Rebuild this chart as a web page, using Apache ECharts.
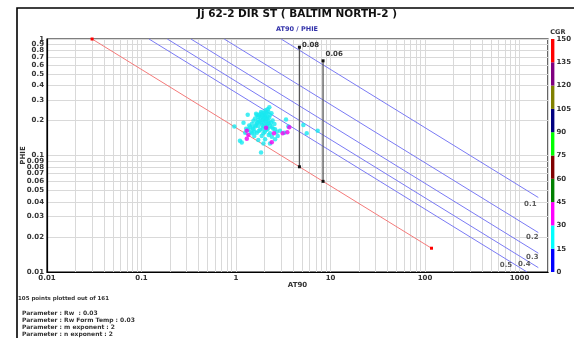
<!DOCTYPE html>
<html>
<head>
<meta charset="utf-8">
<script src="https://cdn.jsdelivr.net/npm/echarts@6/dist/echarts.min.js"></script>
<style>
  html, body { margin: 0; padding: 0; background: #fff; }
  #chart { width: 574px; height: 338px; }
</style>
</head>
<body>
<div id="chart"></div>
<script>
const FONT = 'DejaVu Sans';

// Pickett plot points [AT90, PHIE], split by CGR band
const cgr15to30 = [
  [2.25,0.259],[2.16,0.249],[1.33,0.224],[1.66,0.223],[1.80,0.227],[1.90,0.233],[1.99,0.230],[2.11,0.233],
  [2.20,0.238],[1.72,0.215],[1.87,0.215],[2.03,0.213],[2.16,0.215],[2.29,0.223],[1.59,0.208],[1.72,0.202],
  [1.90,0.202],[2.06,0.204],[2.20,0.199],[3.38,0.204],[1.53,0.199],[1.20,0.191],[1.47,0.186],[1.66,0.189],
  [1.84,0.191],[1.99,0.189],[2.16,0.186],[2.35,0.191],[2.55,0.186],[0.96,0.177],[1.41,0.175],[1.59,0.177],
  [1.72,0.179],[1.95,0.177],[2.39,0.175],[3.58,0.177],[5.16,0.183],[1.35,0.166],[1.53,0.168],[1.80,0.166],
  [2.11,0.166],[2.59,0.168],[2.92,0.163],[7.31,0.163],[1.25,0.157],[1.47,0.155],[1.66,0.157],[1.95,0.155],
  [2.29,0.155],[5.60,0.155],[3.25,0.157],[1.56,0.147],[1.87,0.147],[2.39,0.145],[2.76,0.147],[1.10,0.134],
  [2.03,0.138],[2.59,0.138],[1.72,0.136],[1.15,0.129],[1.95,0.127],[2.29,0.127],[1.84,0.106],
  [1.76,0.220],[1.83,0.210],[1.93,0.222],[2.00,0.218],[2.07,0.225],[2.13,0.208],[2.24,0.212],[1.96,0.206],
  [1.78,0.196],[1.88,0.184],[2.04,0.196],[2.12,0.180],[2.22,0.190],[1.69,0.193],[1.62,0.182],[1.50,0.172],
  [1.57,0.160],[1.74,0.162],[1.91,0.170],[2.02,0.160],[2.17,0.170],[2.30,0.180],[2.44,0.200],[2.48,0.170],
  [1.44,0.160],[1.38,0.181],[1.63,0.228],[2.37,0.230],[2.05,0.244],[1.84,0.236],[2.70,0.160],[1.28,0.170],
  [2.22,0.150]
];
const cgr30to45 = [
  [1.30,0.163],[1.35,0.150],[1.30,0.139],[2.08,0.173],[2.39,0.130],[2.52,0.155],[3.12,0.155],[3.49,0.158],[3.66,0.175]
];

// Water saturation lines (Rw 0.03, m 2, n 2): start / end of each line
const swNames     = ['0.1', '0.2', '0.3', '0.4', '0.5'];
const swStartAT90 = [3, 0.75, 0.3333, 0.1875, 0.12];
const swStartPHIE = [1, 1, 1, 1, 1];
const swEndAT90   = [1580, 1580, 1580, 1580, 1200];
const swEndPHIE   = [0.0436, 0.0218, 0.0145, 0.0109, 0.01];
const swLabelOffset = [[-8, 7], [-6, 5], [-6, 4], [-14, -3], [-21, -7]];

// Sw = 1 (water) line
const wetAT90 = [0.03, 117];
const wetPHIE = [1, 0.016];

// Porosity cut-off markers
const cutNames      = ['0.08', '0.06'];
const cutAT90       = [4.6875, 8.333];
const cutPHIEBottom = [0.08, 0.06];
const cutPHIETop    = [0.85, 0.65];
const cutLabelOffset = [[0, -2], [0, -7]];

// Axis ticks
const xLabelValues = [0.01, 0.1, 1, 10, 100, 1000];
const yGridValues = [0.01, 0.02, 0.03, 0.04, 0.05, 0.06, 0.07, 0.08, 0.09,
                     0.1, 0.2, 0.3, 0.4, 0.5, 0.6, 0.7, 0.8, 0.9, 1];
// label order keeps the crowded top labels away from the first/last slots
const yLabelValues = [1, 0.01, 0.02, 0.03, 0.04, 0.05, 0.06, 0.07, 0.08, 0.09,
                      0.2, 0.3, 0.4, 0.5, 0.6, 0.7, 0.8, 0.9, 0.1];
const decadeSteps = [1, 2, 3, 4, 5, 6, 7, 8, 9];
const xGridValues = [];
[0.01, 0.1, 1, 10, 100, 1000].forEach(d => decadeSteps.forEach(k => {
  const v = +(d * k).toPrecision(3);
  if (v <= 2000) xGridValues.push(v);
}));

// CGR colour scale
const cgrEdges  = [0, 15, 30, 45, 60, 75, 90, 105, 120, 135, 150];
const cgrColors = ['#0000ff', '#00ffff', '#ff00ff', '#008000', '#800000',
                   '#00ff00', '#000080', '#808000', '#800080', '#ff0000'];

const fmt = v => String(+(+v).toPrecision(3));
const tickFont = { fontFamily: FONT, fontSize: 7, fontWeight: 'bold', color: '#333' };

const series = [];

// Sw lines
swNames.forEach((name, i) => {
  series.push({
    type: 'line', name: 'Sw ' + name, xAxisIndex: 0, yAxisIndex: 0,
    data: [[swStartAT90[i], swStartPHIE[i]], [swEndAT90[i], swEndPHIE[i]]],
    symbol: 'none', silent: true,
    lineStyle: { color: '#7a7af4', width: 1 }, z: 3
  });
});
series.push({
  type: 'scatter', name: 'Sw labels', xAxisIndex: 0, yAxisIndex: 0,
  data: swNames.map((name, i) => ({
    value: [swEndAT90[i], swEndPHIE[i]],
    label: { formatter: name, offset: swLabelOffset[i] }
  })),
  symbolSize: 1, itemStyle: { color: 'rgba(0,0,0,0)' },
  label: { show: true, position: 'inside', fontFamily: FONT, fontSize: 7, fontWeight: 'bold', color: '#333' },
  z: 6
});

// Water line
series.push({
  type: 'line', name: 'Sw 1', xAxisIndex: 0, yAxisIndex: 0,
  data: wetAT90.map((x, i) => [x, wetPHIE[i]]),
  symbol: 'rect', symbolSize: 3, showSymbol: true,
  itemStyle: { color: '#ff0000' },
  lineStyle: { color: '#f47a7a', width: 1 }, z: 4
});

// Porosity cut-off verticals
cutNames.forEach((name, i) => {
  series.push({
    type: 'line', name: 'Cut ' + name, xAxisIndex: 0, yAxisIndex: 0,
    data: [
      { value: [cutAT90[i], cutPHIEBottom[i]] },
      { value: [cutAT90[i], cutPHIETop[i]],
        label: { show: true, formatter: name, position: 'right', distance: 1, offset: cutLabelOffset[i],
                 fontFamily: FONT, fontSize: 7, fontWeight: 'bold', color: '#333' } }
    ],
    symbol: 'rect', symbolSize: 3, showSymbol: true,
    itemStyle: { color: '#111' },
    lineStyle: { color: '#555', width: 1.3 }, z: 5
  });
});

// Points
series.push({
  type: 'scatter', name: 'CGR 15-30', xAxisIndex: 0, yAxisIndex: 0,
  data: cgr15to30, symbolSize: 4.5, itemStyle: { color: '#18e8f0' }, z: 7
});
series.push({
  type: 'scatter', name: 'CGR 30-45', xAxisIndex: 0, yAxisIndex: 0,
  data: cgr30to45, symbolSize: 4.5, itemStyle: { color: '#f000f0' }, z: 8
});

// Colour bar as stacked bands
cgrColors.forEach((c, i) => {
  series.push({
    type: 'bar', name: 'CGR band ' + i, xAxisIndex: 1, yAxisIndex: 1,
    stack: 'cgr', data: [cgrEdges[i + 1] - cgrEdges[i]],
    barWidth: '100%', barCategoryGap: 0, itemStyle: { color: c }, silent: true
  });
});

const option = {
  animation: false,
  backgroundColor: '#fff',
  title: [
    { text: 'Jj 62-2 DIR ST ( BALTIM NORTH-2 )', left: 297, top: 9, textAlign: 'center',
      textStyle: { fontFamily: FONT, fontSize: 10.5, fontWeight: 'bold', color: '#111' }, padding: 0 },
    { text: 'AT90 / PHIE', left: 297, top: 26, textAlign: 'center',
      textStyle: { fontFamily: FONT, fontSize: 6.5, fontWeight: 'bold', color: '#3333aa' }, padding: 0 }
  ],
  grid: [
    { left: 47, right: 26, top: 39, bottom: 66, show: true, borderColor: '#000', borderWidth: 1.2 },
    { left: 551, width: 6, top: 39, bottom: 66 }
  ],
  xAxis: [
    {
      type: 'log', gridIndex: 0, min: 0.01, max: 2000, logBase: 10,
      name: 'AT90', nameLocation: 'middle', nameGap: 10, nameMoveOverlap: false,
      nameTextStyle: { fontFamily: FONT, fontSize: 7, fontWeight: 'bold', color: '#333' },
      axisLine: { show: true, lineStyle: { color: '#000', width: 1.2 } },
      axisTick: { show: false, customValues: xGridValues },
      axisLabel: Object.assign({ customValues: xLabelValues, margin: 3, formatter: fmt }, tickFont),
      splitLine: { show: true, lineStyle: { color: '#d9d9d9', width: 1 } }
    },
    {
      type: 'category', gridIndex: 1, data: ['CGR'], show: false
    }
  ],
  yAxis: [
    {
      type: 'log', gridIndex: 0, min: 0.01, max: 1, logBase: 10,
      name: 'PHIE', nameLocation: 'middle', nameGap: 20, nameMoveOverlap: false,
      nameTextStyle: { fontFamily: FONT, fontSize: 7, fontWeight: 'bold', color: '#333' },
      axisLine: { show: true, lineStyle: { color: '#000', width: 1.2 } },
      axisTick: { show: false, customValues: yGridValues },
      axisLabel: Object.assign({ customValues: yLabelValues, margin: 3, formatter: fmt,
                                 showMinLabel: true, showMaxLabel: true }, tickFont),
      splitLine: { show: true, lineStyle: { color: '#d9d9d9', width: 1 } }
    },
    {
      type: 'value', gridIndex: 1, min: 0, max: 150, interval: 15, position: 'right',
      name: 'CGR', nameLocation: 'end', nameGap: 3, nameMoveOverlap: false,
      nameTextStyle: { fontFamily: FONT, fontSize: 6.5, fontWeight: 'bold', color: '#333', align: 'center', padding: [0, 0, 0, 7] },
      axisLine: { show: false }, axisTick: { show: false }, splitLine: { show: false },
      axisLabel: Object.assign({ margin: 2 }, tickFont)
    }
  ],
  graphic: [
    { type: 'rect', shape: { x: 17, y: 8, width: 700, height: 500 },
      style: { fill: 'none', stroke: '#000', lineWidth: 1.6 }, silent: true },
    { type: 'text', left: 18, top: 296,
      style: { text: '105 points plotted out of 161', fontFamily: FONT, fontSize: 5.5, fontWeight: 'bold', fill: '#333' } },
    { type: 'text', left: 22, top: 310,
      style: { text: 'Parameter : Rw  : 0.03', fontFamily: FONT, fontSize: 6, fontWeight: 'bold', fill: '#333' } },
    { type: 'text', left: 22, top: 317.3,
      style: { text: 'Parameter : Rw Form Temp : 0.03', fontFamily: FONT, fontSize: 6, fontWeight: 'bold', fill: '#333' } },
    { type: 'text', left: 22, top: 324.6,
      style: { text: 'Parameter : m exponent : 2', fontFamily: FONT, fontSize: 6, fontWeight: 'bold', fill: '#333' } },
    { type: 'text', left: 22, top: 331.9,
      style: { text: 'Parameter : n exponent : 2', fontFamily: FONT, fontSize: 6, fontWeight: 'bold', fill: '#333' } }
  ],
  series: series
};

const chart = echarts.init(document.getElementById('chart'), null, { renderer: 'canvas' });
chart.setOption(option);
</script>
</body>
</html>
